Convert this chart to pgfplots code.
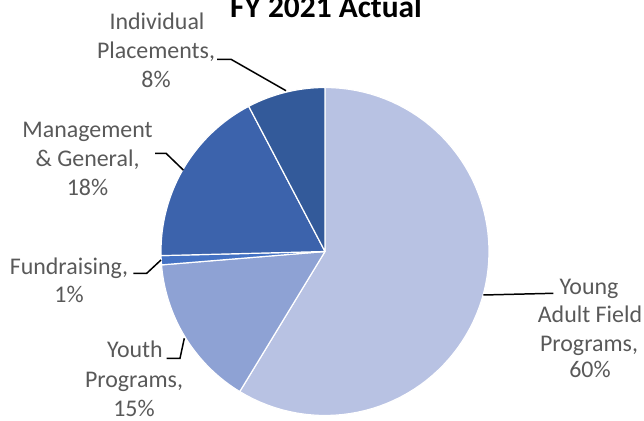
\documentclass[border=0pt]{standalone}
\usepackage{pgfplots}
\pgfplotsset{compat=1.18}
\usepackage{fontspec}
\setmainfont{Carlito}

% slice shares in percent (labels are Excel's rounded values)
% Young Adult 58.7, Youth 15.0, Fundraising 0.9, Management 17.7, Individual 7.7
\definecolor{cYoung}{HTML}{B8C2E3}
\definecolor{cYouth}{HTML}{8EA2D4}
\definecolor{cFund}{HTML}{4472C4}
\definecolor{cMgmt}{HTML}{3C63AC}
\definecolor{cInd}{HTML}{335A9A}
\definecolor{lbl}{HTML}{595959}

% one slice: colour, start angle, end angle (degrees), centre (325,169.5), radius 164
\newcommand{\pieslice}[3]{%
  \addplot[fill=#1, draw=white, line width=1.2pt, domain=#3:#2, samples=80,
    variable=\t, line join=round]
    ({325+164*cos(t)}, {169.5+164*sin(t)}) -- (axis cs:325,169.5) -- cycle;}

\begin{document}
\begin{tikzpicture}[
  lab/.style={font=\fontsize{24}{29}\selectfont, text=lbl, inner sep=0pt, anchor=base},
  lead/.style={black, line width=1.5pt},
]
\begin{axis}[
  scale only axis, width=644bp, height=421bp,
  xmin=0, xmax=644, ymin=0, ymax=421,
  hide axis, clip=false,
]
% angles: 3.6 degrees per percent, clockwise from 12 o'clock
\pieslice{cYoung}{90}{-121.32}
\pieslice{cYouth}{-121.32}{-175.32}
\pieslice{cFund}{-175.32}{-178.56}
\pieslice{cMgmt}{-178.56}{-242.28}
\pieslice{cInd}{-242.28}{-270}

% leader lines
\draw[lead] (axis cs:217,361.7) -- (axis cs:231,361.7) -- (axis cs:286,330.3);
\draw[lead] (axis cs:155,267.7) -- (axis cs:166,267.7) -- (axis cs:183.3,251);
\draw[lead] (axis cs:133.3,147.7) -- (axis cs:146.7,147.7) -- (axis cs:161,161);
\draw[lead] (axis cs:166.7,62.7) -- (axis cs:180,62.7) -- (axis cs:184.3,82.7);
\draw[lead] (axis cs:483.3,126) -- (axis cs:553.3,127.7);

% labels
\node[lab] at (axis cs:157,391) {Individual};
\node[lab] at (axis cs:156,362) {Placements,};
\node[lab] at (axis cs:156,333) {8\%};

\node[lab] at (axis cs:87.5,283) {Management};
\node[lab] at (axis cs:87.5,254) {\& General,};
\node[lab] at (axis cs:87.5,225) {18\%};

\node[lab] at (axis cs:69,146) {Fundraising,};
\node[lab] at (axis cs:69,118) {1\%};

\node[lab] at (axis cs:135,63) {Youth};
\node[lab] at (axis cs:134,33) {Programs,};
\node[lab] at (axis cs:134,5) {15\%};

\node[lab] at (axis cs:589,126) {Young};
\node[lab] at (axis cs:590,98) {Adult Field};
\node[lab] at (axis cs:589,69) {Programs,};
\node[lab] at (axis cs:590,43) {60\%};

% title, partly cut off at the top as in the reference
\node[anchor=base, inner sep=0pt, text=black, font=\fontsize{31.5}{36}\selectfont\bfseries] at (axis cs:326,403.7) {FY 2021 Actual};
\end{axis}
\pgfresetboundingbox
\useasboundingbox (0,0) rectangle (644bp,421bp);
\end{tikzpicture}
\end{document}
